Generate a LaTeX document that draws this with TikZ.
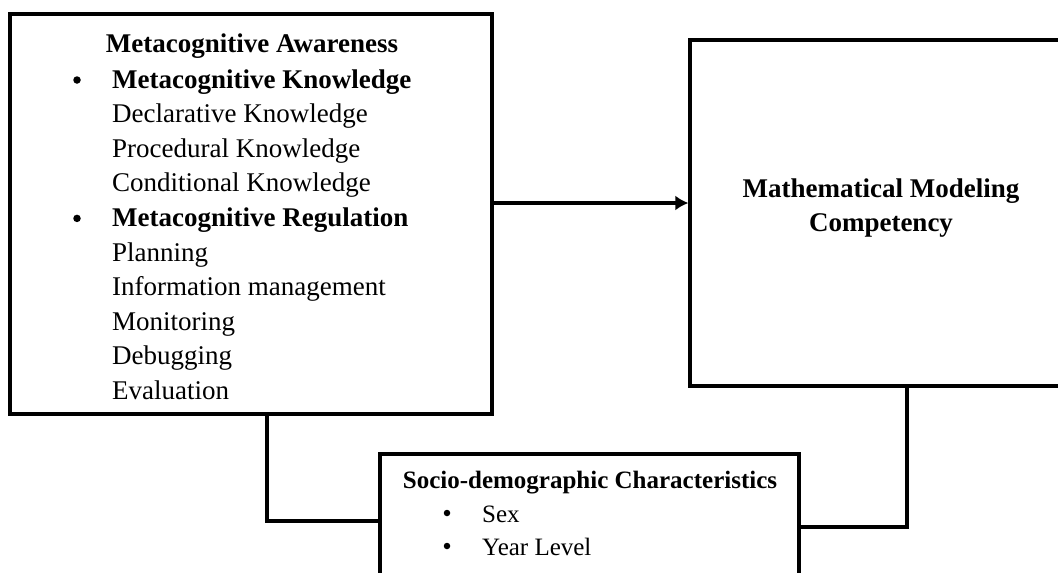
\documentclass[tikz,border=0pt]{standalone}
\usepackage{fontspec}
\setmainfont{Liberation Serif}
\usetikzlibrary{arrows.meta}
\begin{document}
\begin{tikzpicture}[x=1pt,y=-1pt,
  frame/.style={draw, line width=3.2pt, rectangle, inner sep=0pt},
  big/.style={inner sep=0pt, font=\fontsize{27}{34.6}\selectfont},
  bigb/.style={big, font=\fontsize{27}{34.6}\selectfont\bfseries},
  small/.style={inner sep=0pt, font=\fontsize{25}{33}\selectfont},
  smallb/.style={small, font=\fontsize{25}{33}\selectfont\bfseries},
  dot/.style={circle, fill, inner sep=0pt, minimum size=7.5pt},
  sdot/.style={circle, fill, inner sep=0pt, minimum size=6.5pt},
  line/.style={draw, line width=3.2pt},
  arr/.style={line, -{Latex[length=13pt,width=15pt]}}]
\useasboundingbox (0,0) rectangle (1058,573);
\clip (0,0) rectangle (1058,573);
% boxes
\node[frame, minimum width=482pt, minimum height=400pt] (aware) at (251,214) {};
\node[frame, minimum width=382pt, minimum height=346pt] (mm) at (881,213) {};
\node[frame, minimum width=419pt, minimum height=170pt] (socio) at (589.5,539) {};
% left box text
\node[bigb, anchor=base] (t0) at (252,52) {Metacognitive Awareness};
\node[dot] (b1) at (77,80) {};
\node[bigb, anchor=base west] (t1) at (112,88) {Metacognitive Knowledge};
\node[big, anchor=base west] (t2) at (112,122.6) {Declarative Knowledge};
\node[big, anchor=base west] (t3) at (112,157.2) {Procedural Knowledge};
\node[big, anchor=base west] (t4) at (112,191.8) {Conditional Knowledge};
\node[dot] (b2) at (77,218.4) {};
\node[bigb, anchor=base west] (t5) at (112,226.4) {Metacognitive Regulation};
\node[big, anchor=base west] (t6) at (112,261) {Planning};
\node[big, anchor=base west] (t7) at (112,295.6) {Information management};
\node[big, anchor=base west] (t8) at (112,330.2) {Monitoring};
\node[big, anchor=base west] (t9) at (112,364.8) {Debugging};
\node[big, anchor=base west] (t10) at (112,399.4) {Evaluation};
% right box text
\node[bigb, anchor=base] (m1) at (881,197) {Mathematical Modeling};
\node[bigb, anchor=base] (m2) at (881,231) {Competency};
% bottom box text
\node[smallb, anchor=base] (s0) at (590,488) {Socio-demographic Characteristics};
\node[sdot] (sb1) at (447,513) {};
\node[small, anchor=base west] (s1) at (482,522) {Sex};
\node[sdot] (sb2) at (447,546) {};
\node[small, anchor=base west] (s2) at (482,555) {Year Level};
% connectors
\coordinate (c1) at (267,521);
\coordinate (c2) at (907,527);
\draw[arr] ([yshift=11pt]aware.east) -- ([yshift=11pt]aware.east -| mm.west);
\draw[line] (aware.south -| c1) -- (c1) -- (socio.west |- c1);
\draw[line] (socio.east |- c2) -- (c2) -- (mm.south -| c2);
\end{tikzpicture}
\end{document}
